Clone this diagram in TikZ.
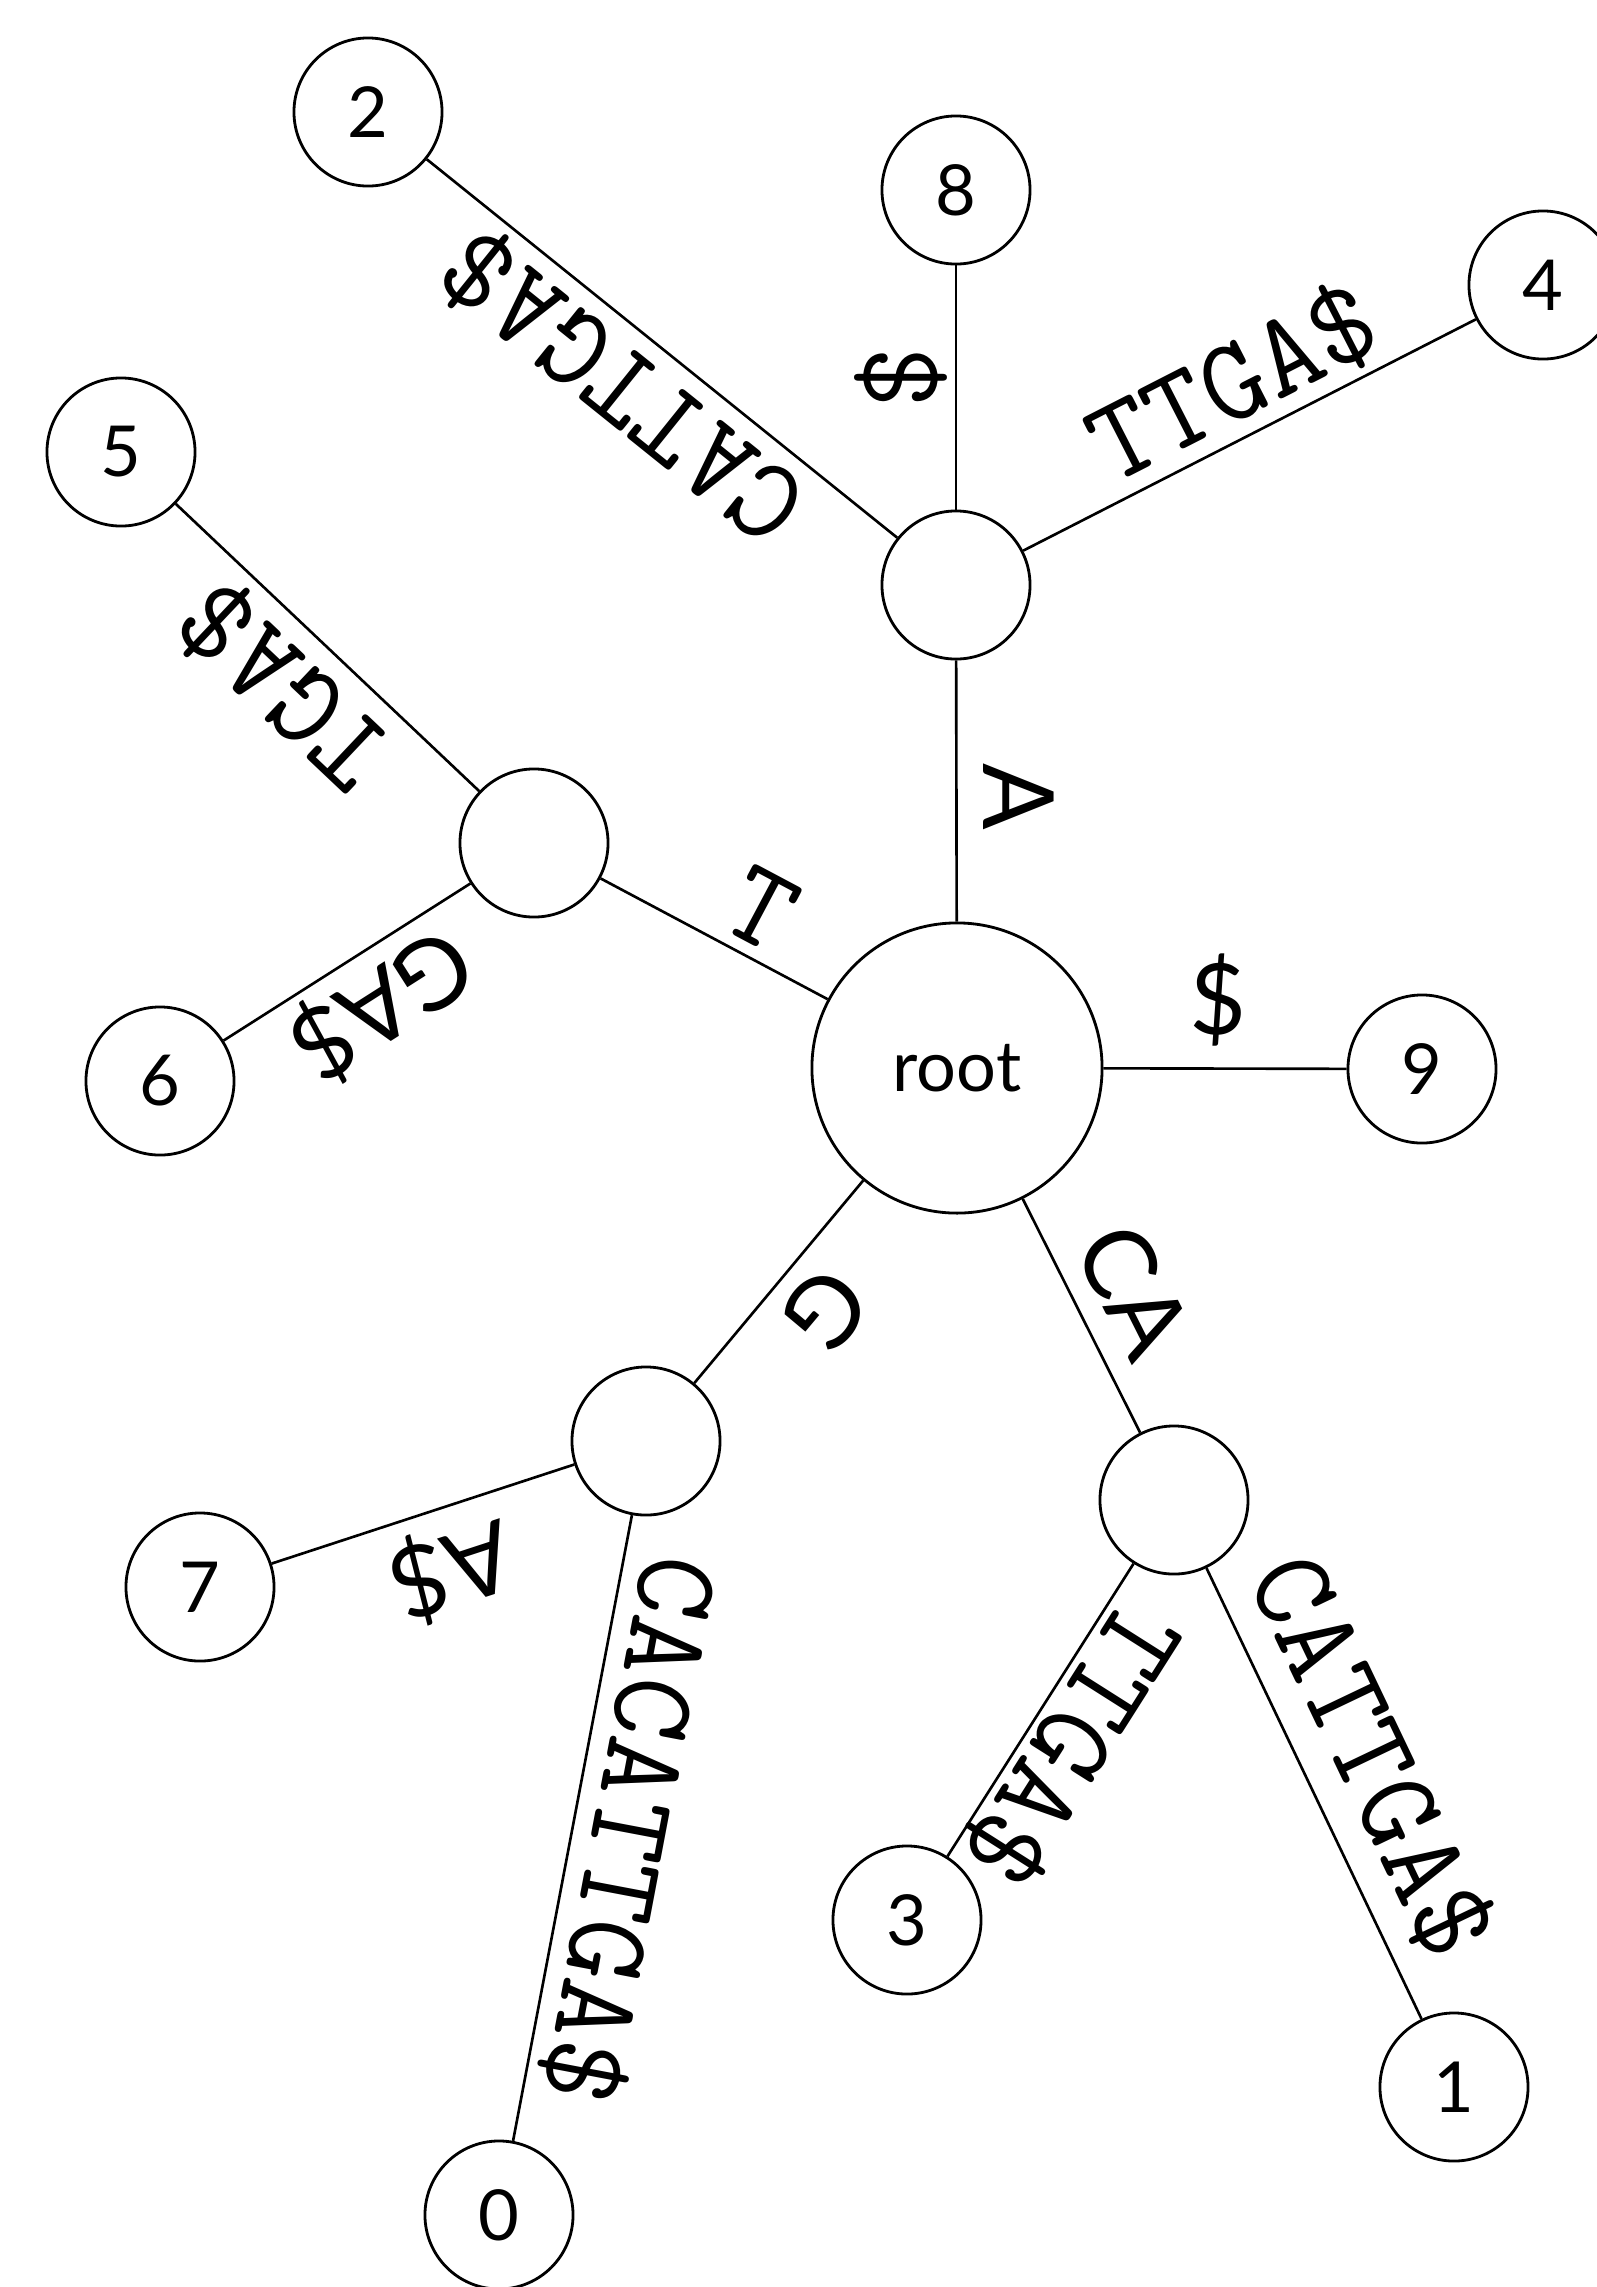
\documentclass[tikz,border=0pt]{standalone}
\usepackage{fontspec}
\setmainfont{Lato}
\begin{document}
\begin{tikzpicture}[x=0.01cm,y=-0.01cm,
  every node/.style={inner sep=0pt},
  vertex/.style={circle, draw, line width=0.8pt, minimum size=1.48cm,
    font=\fontsize{20}{20}\selectfont},
  rootvertex/.style={vertex, minimum size=2.9cm},
  branch/.style={line width=0.75pt},
  seqlbl/.style={font=\fontsize{34}{34}\ttfamily},
  symlbl/.style={font=\fontsize{28}{28}\selectfont}]
\useasboundingbox (0,0) rectangle (1596,2287);

% tree nodes
\node[rootvertex] (root) at (957,1068) {root};
\node[vertex] (nA)  at (956,585)  {};
\node[vertex] (n8)  at (956,190)  {8};
\node[vertex] (n2)  at (368,112)  {2};
\node[vertex] (n4)  at (1543,285) {4};
\node[vertex] (n5)  at (121,452)  {5};
\node[vertex] (nT)  at (534,843)  {};
\node[vertex] (n6)  at (160,1081) {6};
\node[vertex] (n9)  at (1422,1069) {9};
\node[vertex] (nG)  at (646,1441) {};
\node[vertex] (n7)  at (200,1587) {7};
\node[vertex] (n0)  at (499,2215) {0};
\node[vertex] (nCA) at (1174,1500) {};
\node[vertex] (n3)  at (907,1920) {3};
\node[vertex] (n1)  at (1454,2087) {1};

% branches
\draw[branch] (root) -- (nA);
\draw[branch] (root) -- (nT);
\draw[branch] (root) -- (n9);
\draw[branch] (root) -- (nG);
\draw[branch] (root) -- (nCA);
\draw[branch] (nA) -- (n8);
\draw[branch] (nA) -- (n2);
\draw[branch] (nA) -- (n4);
\draw[branch] (nT) -- (n5);
\draw[branch] (nT) -- (n6);
\draw[branch] (nG) -- (n7);
\draw[branch] (nG) -- (n0);
\draw[branch] (nCA) -- (n3);
\draw[branch] (nCA) -- (n1);

% edge labels
\node[symlbl, rotate=-90]    (lA)   at (1019,797)  {A};
\node[seqlbl, rotate=-28]    (lT)   at (762,909)   {T};
\node[symlbl]                (l9)   at (1218,1000) {\$};
\node[symlbl, rotate=-130]   (lG)   at (826,1310)  {G};
\node[symlbl, rotate=-63.3]  (lCA)  at (1134,1291) {CA};
\node[seqlbl, rotate=90]     (l8)   at (901,378)   {\$};
\node[seqlbl, rotate=141.2]  (l2)   at (623,387)   {CATTGA\$};
\node[seqlbl, rotate=27.1]   (l4)   at (1233,383)  {TTGA\$};
\node[seqlbl, rotate=136.6]  (l5)   at (284,686)   {TGA\$};
\node[symlbl, rotate=212.5]  (l6)   at (382,1005)  {GA\$};
\node[symlbl, rotate=198.1]  (l7)   at (452,1570)  {A\$};
\node[seqlbl, rotate=-100.75] (l0)  at (630,1830)  {CACATTGA\$};
\node[seqlbl, rotate=-122.4] (l3)   at (1072,1745) {TTGA\$};
\node[seqlbl, rotate=-64.5]  (l1)   at (1372,1756) {CATTGA\$};
\end{tikzpicture}
\end{document}
